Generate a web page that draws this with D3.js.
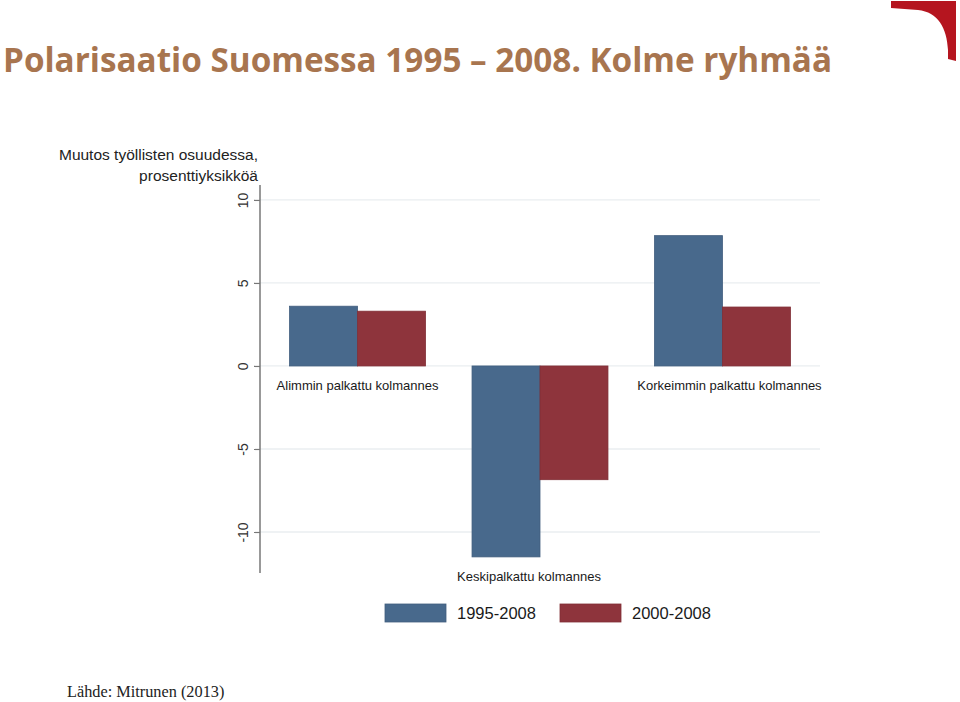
<!DOCTYPE html>
<html>
<head>
<meta charset="utf-8">
<script src="https://cdn.jsdelivr.net/npm/d3@7"></script>
<style>
  html, body { margin: 0; padding: 0; background: #ffffff; }
  svg { display: block; }
</style>
</head>
<body>
<svg id="chart" width="960" height="702"></svg>
<script>
// ---- data ----
const categories = ["Alimmin palkattu kolmannes", "Keskipalkattu kolmannes", "Korkeimmin palkattu kolmannes"];
const seriesNames = ["1995-2008", "2000-2008"];
const values1995_2008 = [3.6, -11.5, 7.85];
const values2000_2008 = [3.3, -6.85, 3.55];
const yTicks = [-10, -5, 0, 5, 10];
const titleText = "Polarisaatio Suomessa 1995 \u2013 2008. Kolme ryhmää";
const yTitleLines = ["Muutos työllisten osuudessa,", "prosenttiyksikköä"];
const sourceText = "Lähde: Mitrunen (2013)";

const colors = ["#48698c", "#8e343c"];
const series = [values1995_2008, values2000_2008];
const labelShift = [0, -11, 7];

const svg = d3.select("#chart");

// ---- title ----
svg.append("text")
  .attr("x", 3).attr("y", 72)
  .attr("font-family", "'Open Sans', 'Noto Sans', sans-serif")
  .attr("font-weight", "bold")
  .attr("font-size", 34)
  .attr("fill", "#a8754f")
  .attr("textLength", 829)
  .attr("lengthAdjust", "spacingAndGlyphs")
  .text(titleText);

// ---- decorative corner ----
svg.append("path")
  .attr("d", "M891,1 L956,1 L956,61 L948,59 L948,50 C947,28 938,12 918,10 L891,8 Z")
  .attr("fill", "#b5151f");

// ---- scales ----
const x0 = d3.scaleBand().domain(categories).range([260, 820]).paddingInner(0.255).paddingOuter(0.162);
const x1 = d3.scaleBand().domain(seriesNames).range([0, x0.bandwidth()]);
const y = d3.scaleLinear().domain([-12.47, 10.9]).range([573, 185]);

const fontSans = "'Liberation Sans', Arial, sans-serif";

// ---- gridlines ----
svg.append("g").selectAll("line").data(yTicks).join("line")
  .attr("x1", 260).attr("x2", 820)
  .attr("y1", d => y(d)).attr("y2", d => y(d))
  .attr("stroke", "#eaeef0").attr("stroke-width", 1.3);

// ---- y axis ----
const yAxis = d3.axisLeft(y).tickValues(yTicks).tickSize(6).tickFormat(d => String(d));
const gy = svg.append("g").attr("transform", "translate(260,0)").call(yAxis);
gy.select(".domain").attr("stroke", "#777").attr("stroke-width", 1.5).attr("d", `M0,${y.range()[1]}V${y.range()[0]}`);
gy.selectAll(".tick line").attr("stroke", "#777").attr("stroke-width", 1.2);
gy.selectAll(".tick text")
  .attr("font-family", fontSans).attr("font-size", 14).attr("fill", "#333")
  .attr("transform", "rotate(-90)")
  .attr("x", 0).attr("y", -12).attr("dy", "0")
  .attr("text-anchor", "middle");

// ---- y axis title ----
svg.append("g").selectAll("text").data(yTitleLines).join("text")
  .attr("x", 258).attr("y", (d, i) => 160 + i * 21)
  .attr("text-anchor", "end")
  .attr("font-family", fontSans).attr("font-size", 15.5).attr("fill", "#222")
  .text(d => d);

// ---- bars ----
const groups = svg.append("g").selectAll("g").data(categories).join("g")
  .attr("transform", d => `translate(${x0(d)},0)`);

groups.selectAll("rect").data((d, i) => seriesNames.map((s, j) => ({ s, v: series[j][i], j })))
  .join("rect")
  .attr("x", d => x1(d.s))
  .attr("width", x1.bandwidth())
  .attr("y", d => y(Math.max(0, d.v)))
  .attr("height", d => Math.abs(y(d.v) - y(0)))
  .attr("fill", d => colors[d.j])
  .attr("stroke", d => d3.color(colors[d.j]).darker(0.3))
  .attr("stroke-width", 0.8);

// ---- category labels ----
groups.append("text")
  .attr("x", (d, i) => x0.bandwidth() / 2 + labelShift[i])
  .attr("y", (d, i) => {
    const minV = Math.min(0, values1995_2008[i], values2000_2008[i]);
    return y(minV) + 24;
  })
  .attr("text-anchor", "middle")
  .attr("font-family", fontSans).attr("font-size", 13).attr("fill", "#1a1a1a")
  .text(d => d);

// ---- legend ----
const legendX = [385, 560];
const legend = svg.append("g").selectAll("g").data(seriesNames).join("g")
  .attr("transform", (d, i) => `translate(${legendX[i]},604)`);
legend.append("rect").attr("width", 61).attr("height", 18)
  .attr("fill", (d, i) => colors[i])
  .attr("stroke", (d, i) => d3.color(colors[i]).darker(0.3)).attr("stroke-width", 0.8);
legend.append("text").attr("x", 72).attr("y", 15)
  .attr("font-family", fontSans).attr("font-size", 16.5).attr("fill", "#1a1a1a")
  .text(d => d);

// ---- source ----
svg.append("text")
  .attr("x", 67).attr("y", 697)
  .attr("font-family", "'Liberation Serif', 'DejaVu Serif', serif")
  .attr("font-size", 16.3).attr("fill", "#222")
  .text(sourceText);
</script>
</body>
</html>
